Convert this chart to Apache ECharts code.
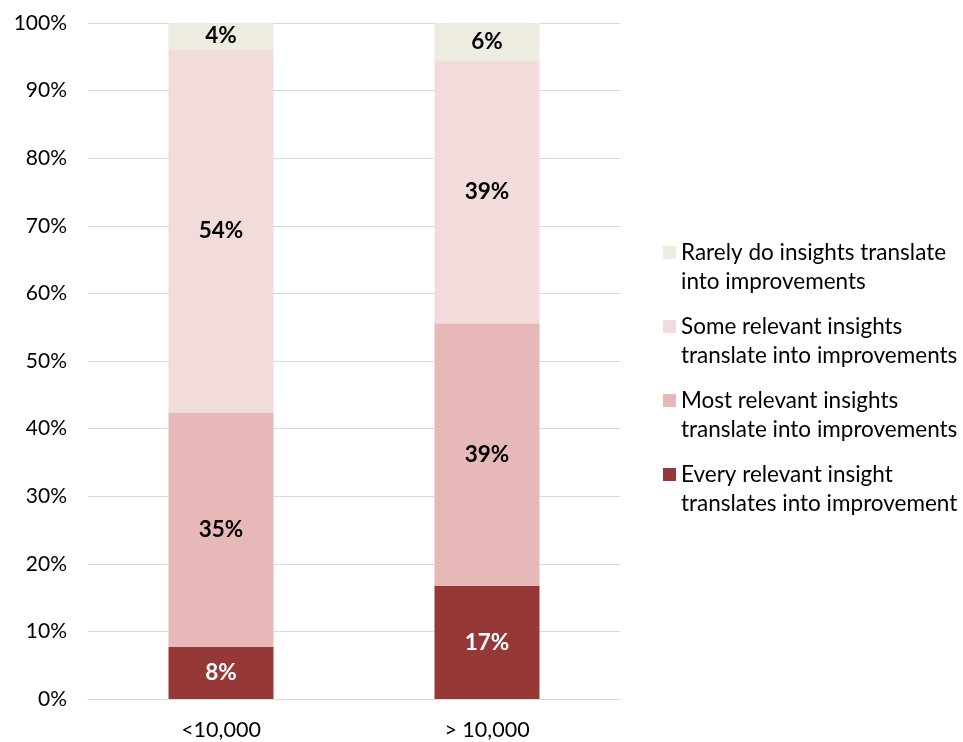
<!DOCTYPE html>
<html>
<head>
<meta charset="utf-8">
<script src="https://cdn.jsdelivr.net/npm/echarts@6/dist/echarts.min.js"></script>
<style>
  html, body { margin: 0; padding: 0; background: #fff; }
  #chart { width: 963px; height: 742px; }
</style>
</head>
<body>
<div id="chart"></div>
<script>
// Share of respondents by company size (percent of each group)
const categories = ['<10,000', '> 10,000'];
const everyInsight = [7.7, 16.7];
const mostInsights = [34.6, 38.9];
const someInsights = [53.8, 38.9];
const rarelyInsights = [3.9, 5.6];
const yTicks = [0, 10, 20, 30, 40, 50, 60, 70, 80, 90, 100];

const seriesNames = [
  'Every relevant insight translates into improvement',
  'Most relevant insights translate into improvements',
  'Some relevant insights translate into improvements',
  'Rarely do insights translate into improvements'
];
// Two-line legend text; the leading blank line puts the first line level with the swatch
const legendLines = {
  'Every relevant insight translates into improvement': '\nEvery relevant insight\ntranslates into improvement',
  'Most relevant insights translate into improvements': '\nMost relevant insights\ntranslate into improvements',
  'Some relevant insights translate into improvements': '\nSome relevant insights\ntranslate into improvements',
  'Rarely do insights translate into improvements': '\nRarely do insights translate\ninto improvements'
};
const colors = ['#973838', '#E6B9B8', '#F2DCDB', '#EEECE1'];
const values = [everyInsight, mostInsights, someInsights, rarelyInsights];

const FONT = 'Lato';

const chart = echarts.init(document.getElementById('chart'));

const series = seriesNames.map((name, i) => ({
  name: name,
  type: 'bar',
  stack: 'total',
  barWidth: 105,
  data: values[i],
  itemStyle: { color: colors[i] },
  label: {
    show: true,
    position: 'inside',
    fontFamily: FONT,
    fontSize: 22.5,
    fontWeight: 'bold',
    color: i === 0 ? '#ffffff' : '#000000',
    formatter: p => Math.round(p.value) + '%'
  },
  emphasis: { disabled: true }
}));

chart.setOption({
  animation: false,
  backgroundColor: '#ffffff',
  grid: { left: 88, right: 343, top: 23, bottom: 43 },
  xAxis: {
    type: 'category',
    data: categories,
    axisLine: { show: true, lineStyle: { color: '#D9D9D9', width: 1 } },
    axisTick: { show: false },
    axisLabel: { fontFamily: FONT, fontSize: 21.5, color: '#000', margin: 20 }
  },
  yAxis: {
    type: 'value',
    min: yTicks[0],
    max: yTicks[yTicks.length - 1],
    interval: 10,
    axisLine: { show: false },
    axisTick: { show: false },
    splitLine: { lineStyle: { color: '#D9D9D9', width: 1 } },
    axisLabel: { fontFamily: FONT, fontSize: 21, color: '#000', margin: 21, formatter: '{value}%' }
  },
  legend: {
    orient: 'vertical',
    left: 663,
    top: 209,
    padding: 0,
    itemWidth: 13,
    itemHeight: 13,
    itemGap: -13,
    icon: 'rect',
    selectedMode: false,
    data: seriesNames.slice().reverse(),
    formatter: name => legendLines[name],
    textStyle: {
      fontFamily: FONT,
      fontSize: 22.5,
      color: '#000',
      lineHeight: 29
    }
  },
  series: series
});
</script>
</body>
</html>
